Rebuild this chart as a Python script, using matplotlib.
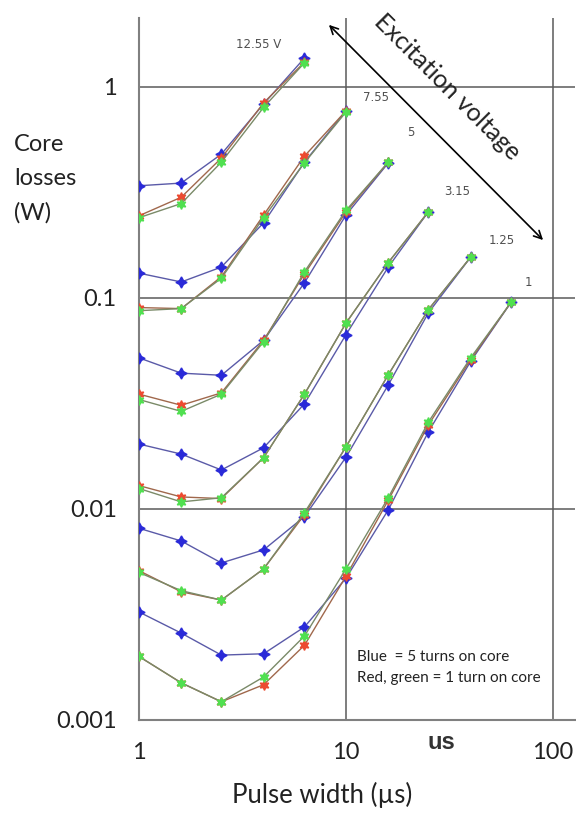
#Core losses vs pulse width for several excitation voltages, log-log
import matplotlib
matplotlib.use('Agg')
import matplotlib.pyplot as plt

pulse = [1, 1.6, 2.5, 4, 6.3, 10, 16, 25, 40, 63]  #pulse width in us
volt_labels = ['12.55 V', '7.55', '5', '3.15', '1.25', '1']

#blue = 5 turns on core
blue = [
    [0.34, 0.35, 0.48, 0.83, 1.37],
    [0.131, 0.119, 0.14, 0.227, 0.44, 0.77],
    [0.052, 0.044, 0.043, 0.063, 0.118, 0.247, 0.436],
    [0.0203, 0.0182, 0.0153, 0.0195, 0.0315, 0.067, 0.14, 0.256],
    [0.0081, 0.00705, 0.00555, 0.0064, 0.0092, 0.0176, 0.0387, 0.085, 0.156],
    [0.00325, 0.00258, 0.00203, 0.00206, 0.00276, 0.0047, 0.0099, 0.0232, 0.05, 0.096],
]
#red and green = 1 turn on core
red = [
    [0.245, 0.30, 0.46, 0.84, 1.31],
    [0.09, 0.089, 0.126, 0.247, 0.47, 0.77],
    [0.035, 0.031, 0.0355, 0.063, 0.13, 0.255, 0.44],
    [0.0129, 0.0114, 0.0112, 0.0175, 0.035, 0.076, 0.147, 0.256],
    [0.0051, 0.00405, 0.0037, 0.0052, 0.0094, 0.0197, 0.0432, 0.088, 0.156],
    [0.002, 0.0015, 0.00122, 0.00147, 0.00226, 0.0048, 0.011, 0.025, 0.051, 0.096],
]
green = [
    [0.24, 0.28, 0.44, 0.80, 1.30],
    [0.087, 0.089, 0.124, 0.24, 0.437, 0.76],
    [0.033, 0.029, 0.035, 0.062, 0.133, 0.26, 0.44],
    [0.0125, 0.0108, 0.0113, 0.0175, 0.035, 0.076, 0.147, 0.256],
    [0.005, 0.0041, 0.0037, 0.0052, 0.0096, 0.0197, 0.0432, 0.088, 0.156],
    [0.002, 0.0015, 0.00122, 0.0016, 0.0025, 0.0052, 0.0113, 0.0258, 0.052, 0.096],
]
#where the voltage labels sit (data coords)
label_x = [3.8, 14.0, 20.6, 34.4, 56.7, 75.7]
label_y = [1.58, 0.887, 0.605, 0.318, 0.188, 0.118]

plt.rcParams['font.family'] = ['Lato', 'DejaVu Sans']

fig = plt.figure(figsize=(5.76, 8.15), dpi=100)
ax = fig.add_axes([139/576, 95/815, 436/576, 702/815])
ax.set_xscale('log')
ax.set_yscale('log')
ax.set_xlim(1, 127.7)
ax.set_ylim(0.001, 2.12)

for i in range(len(volt_labels)):
    n = len(blue[i])
    ax.plot(pulse[:n], blue[i], color='#5a5aa8', lw=1, marker=(4, 1, 0), ms=8,
            mfc='#2a2ad8', mec='#2a2ad8', zorder=3)
    ax.plot(pulse[:n], red[i], color='#a0684c', lw=1, marker=(6, 1, 0), ms=7,
            mfc='#ec4a30', mec='#ec4a30', zorder=4)
    ax.plot(pulse[:n], green[i], color='#7a8a68', lw=1, marker=(6, 1, 0), ms=7,
            mfc='#50e050', mec='#50e050', zorder=5)
    ax.text(label_x[i], label_y[i], volt_labels[i], fontsize=8.5, color='#505050',
            ha='center', va='center', family='DejaVu Sans')

#grid only at the decades
for s in ['top', 'right']:
    ax.spines[s].set_visible(False)
for s in ['left', 'bottom']:
    ax.spines[s].set_color('#808080')
    ax.spines[s].set_linewidth(1.5)
ax.minorticks_off()
ax.set_xticks([1, 10, 100])
ax.set_xticklabels(['1', '10', '100'])
ax.set_yticks([0.001, 0.01, 0.1, 1])
ax.set_yticklabels(['0.001', '0.01', '0.1', '1'])
ax.tick_params(length=0, labelsize=17, colors='#222222', pad=16)
ax.tick_params(axis='y', pad=16)
for v in [10, 100]:
    ax.axvline(v, color='#5a5a5a', lw=1.1, zorder=1)
for v in [0.01, 0.1, 1]:
    ax.axhline(v, color='#5a5a5a', lw=1.1, zorder=1)

ax.text(28.8, 0.00078, 'us', fontsize=17, fontweight='bold', color='#333333',
        ha='center', va='center', family='Liberation Sans', clip_on=False)
fig.text(322/576, 1 - 795/815, 'Pulse width (\u00b5s)', fontsize=18.5, ha='center',
         va='center', color='#222222')
fig.text(14/576, 1 - 134/815, 'Core\nlosses\n(W)', fontsize=17, ha='left', va='top',
         linespacing=1.75, color='#222222')

#excitation voltage arrow
ax.annotate('', xy=(91.5, 0.184), xytext=(8.09, 2.01),
            arrowprops=dict(arrowstyle='<->', color='black', lw=1.2,
                            mutation_scale=14), annotation_clip=False)
ax.text(30.7, 1.0, 'Excitation voltage', fontsize=18, rotation=-45,
        rotation_mode='anchor', ha='center', va='center', color='#222222')

ax.text(11.3, 0.00199, 'Blue  = 5 turns on core', fontsize=11, ha='left',
        va='center', color='#222222')
ax.text(11.3, 0.00158, 'Red, green = 1 turn on core', fontsize=11, ha='left',
        va='center', color='#222222')

plt.savefig('out.png', dpi=100)
